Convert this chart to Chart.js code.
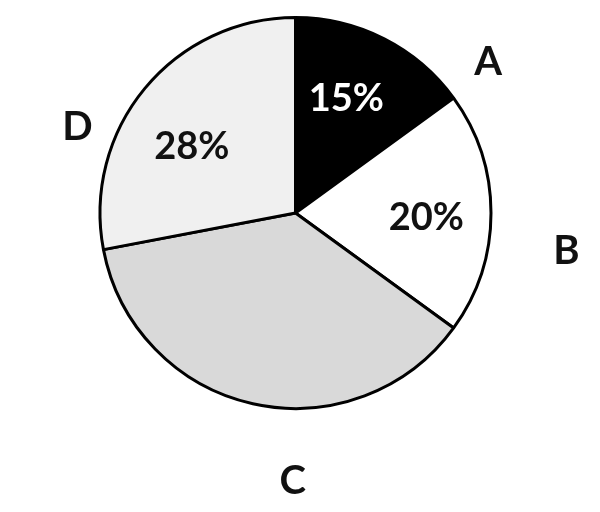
<!DOCTYPE html>
<html>
<head>
<meta charset="utf-8">
<script src="https://cdn.jsdelivr.net/npm/chart.js@4.4.1/dist/chart.umd.min.js"></script>
<style>
  html, body { margin: 0; padding: 0; background: #fff; }
  #wrap { width: 600px; height: 512px; }
</style>
</head>
<body>
<div id="wrap"><canvas id="pie" width="600" height="512"></canvas></div>
<script>
// slice data
const categories = ['A', 'B', 'C', 'D']
const shares = [15, 20, 37, 28]
const percentLabels = ['15%', '20%', '', '28%']

const sliceColors = ['#000000', '#ffffff', '#d9d9d9', '#f0f0f0']
const percentColors = ['#ffffff', '#111111', '#111111', '#111111']

// where the text sits, as [angle offset from slice middle (deg), radius factor]
const percentPlace = [[-3, 0.64], [2, 0.67], [0, 0.6], [-7, 0.63]]
const namePlace = [[25, 1.25], [8, 1.4], [-12, 1.37], [-18, 1.2]]

const pieLabels = {
    id: 'pieLabels',
    afterDatasetsDraw: function (chart) {
        const ctx = chart.ctx
        const arcs = chart.getDatasetMeta(0).data
        ctx.save()
        ctx.textAlign = 'center'
        ctx.textBaseline = 'middle'
        arcs.forEach(function (arc, i) {
            const p = arc.getProps(['x', 'y', 'startAngle', 'endAngle', 'outerRadius'], true)
            const mid = (p.startAngle + p.endAngle) / 2
            const put = function (text, place, color) {
                if (!text) return
                const a = mid + place[0] * Math.PI / 180
                const r = p.outerRadius * place[1]
                ctx.fillStyle = color
                ctx.fillText(text, p.x + Math.cos(a) * r, p.y + Math.sin(a) * r)
            }
            ctx.font = 'bold 38px Lato'
            put(percentLabels[i], percentPlace[i], percentColors[i])
            ctx.font = 'bold 40px Lato'
            put(categories[i], namePlace[i], '#111111')
        })
        ctx.restore()
    }
}

new Chart(document.getElementById('pie'), {
    type: 'pie',
    data: {
        labels: categories,
        datasets: [{
            data: shares,
            backgroundColor: sliceColors,
            borderColor: '#000000',
            borderWidth: 3
        }]
    },
    options: {
        responsive: false,
        animation: false,
        layout: {
            padding: { left: 98, right: 107, top: 16, bottom: 102 }
        },
        plugins: {
            legend: { display: false },
            tooltip: { enabled: false }
        }
    },
    plugins: [pieLabels]
})
</script>
</body>
</html>
